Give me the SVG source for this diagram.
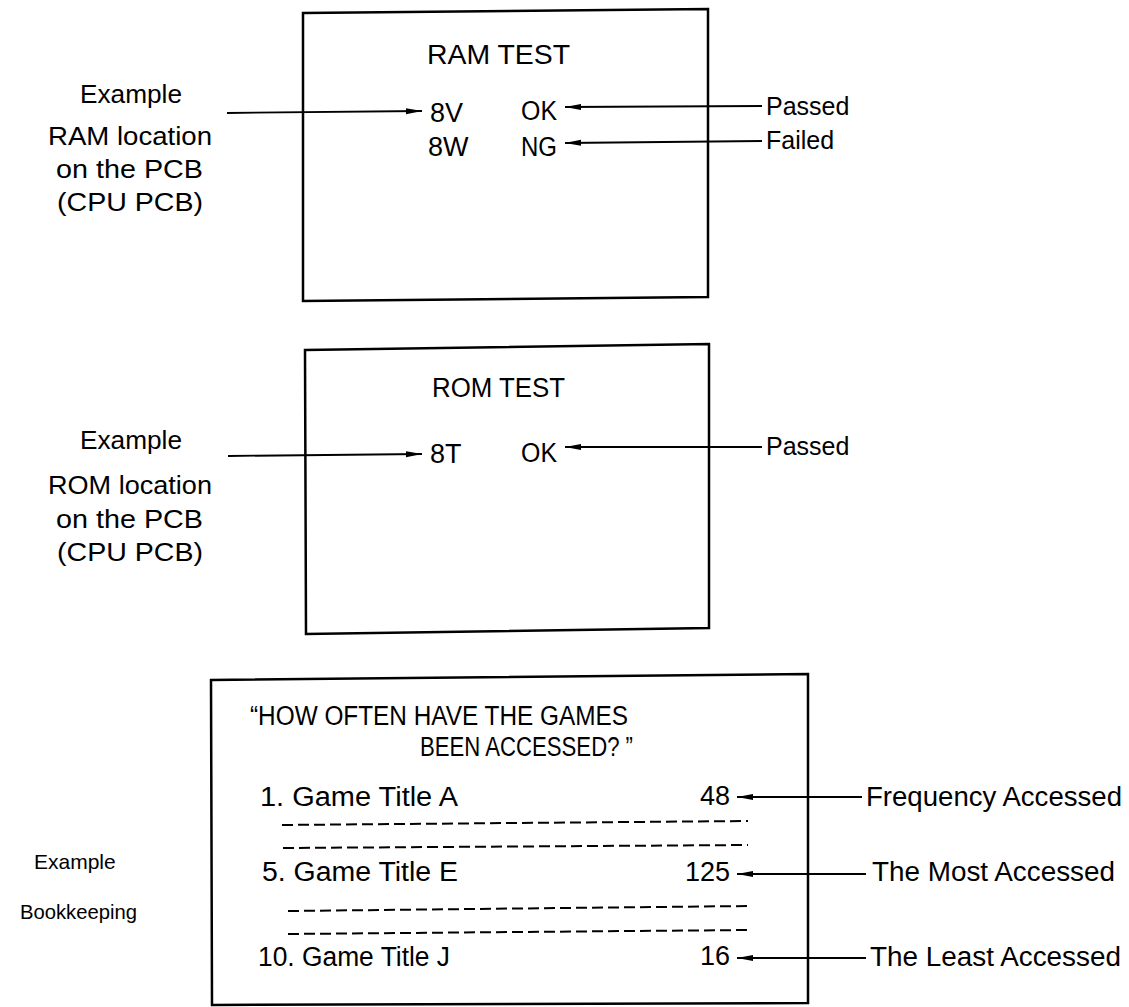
<svg xmlns="http://www.w3.org/2000/svg" width="1129" height="1007" viewBox="0 0 1129 1007">
<defs>
<marker id="ah" viewBox="0 0 16 8" refX="16" refY="4" markerWidth="16" markerHeight="8" markerUnits="userSpaceOnUse" orient="auto">
<path d="M0,1 L16,4 L0,7 Z" fill="#000"/>
</marker>
<style>
.box{fill:none;stroke:#000;stroke-width:2.5}
.arr{fill:none;stroke:#000;stroke-width:1.8;marker-end:url(#ah)}
.dash{fill:none;stroke:#000;stroke-width:2;stroke-dasharray:11 5}
text{font-family:"Liberation Sans",Arial,sans-serif;fill:#000}
.t28{font-size:27px}
.t25{font-size:25px}
.t21{font-size:21px}
.mid{text-anchor:middle}
.end{text-anchor:end}
</style>
</defs>

<g id="ram-screen">
<path class="box" d="M303,13 L708,9 L708,297 L303,301 Z"/>
<text class="t28" x="427" y="64" textLength="143" lengthAdjust="spacingAndGlyphs">RAM TEST</text>
<text class="t28" x="430" y="122">8V</text>
<text class="t28" x="521" y="120" textLength="36" lengthAdjust="spacingAndGlyphs">OK</text>
<text class="t28" x="428" y="156">8W</text>
<text class="t28" x="521" y="156" textLength="36" lengthAdjust="spacingAndGlyphs">NG</text>
</g>

<g id="ram-left-label">
<text class="t25 mid" x="131" y="103" textLength="102" lengthAdjust="spacingAndGlyphs">Example</text>
<text class="t25" x="48" y="145" textLength="164" lengthAdjust="spacingAndGlyphs">RAM location</text>
<text class="t25" x="56" y="178" textLength="147" lengthAdjust="spacingAndGlyphs">on the PCB</text>
<text class="t25" x="57" y="211" textLength="146" lengthAdjust="spacingAndGlyphs">(CPU PCB)</text>
</g>

<g id="ram-right-labels">
<text class="t25" x="766" y="115">Passed</text>
<text class="t25" x="766" y="149">Failed</text>
</g>

<g id="rom-screen">
<path class="box" d="M305,350 L709,344 L709,628 L306,634 Z"/>
<text class="t28" x="432" y="397" textLength="133" lengthAdjust="spacingAndGlyphs">ROM TEST</text>
<text class="t28" x="430" y="463">8T</text>
<text class="t28" x="521" y="462" textLength="36" lengthAdjust="spacingAndGlyphs">OK</text>
</g>

<g id="rom-left-label">
<text class="t25 mid" x="131" y="449" textLength="102" lengthAdjust="spacingAndGlyphs">Example</text>
<text class="t25" x="48" y="494" textLength="164" lengthAdjust="spacingAndGlyphs">ROM location</text>
<text class="t25" x="56" y="528" textLength="147" lengthAdjust="spacingAndGlyphs">on the PCB</text>
<text class="t25" x="57" y="561" textLength="146" lengthAdjust="spacingAndGlyphs">(CPU PCB)</text>
</g>

<g id="rom-right-label">
<text class="t25" x="766" y="455">Passed</text>
</g>

<g id="bookkeeping-screen">
<path class="box" d="M211,680 L808,674 L808,1003 L212,1005 Z"/>
<text class="t28" x="250" y="725" textLength="378" lengthAdjust="spacingAndGlyphs">“HOW OFTEN HAVE THE GAMES</text>
<text class="t28" x="420" y="756" textLength="213" lengthAdjust="spacingAndGlyphs">BEEN ACCESSED? ”</text>
<text class="t28" x="260" y="806" textLength="198" lengthAdjust="spacingAndGlyphs">1. Game Title A</text>
<text class="t28 end" x="730" y="805">48</text>
<path class="dash" d="M282,825 L748,821"/>
<path class="dash" d="M283,848 L748,845"/>
<text class="t28" x="262" y="881" textLength="196" lengthAdjust="spacingAndGlyphs">5. Game Title E</text>
<text class="t28 end" x="730" y="881">125</text>
<path class="dash" d="M288,911 L748,906"/>
<path class="dash" d="M288,934 L748,930"/>
<text class="t28" x="258" y="966" textLength="192" lengthAdjust="spacingAndGlyphs">10. Game Title J</text>
<text class="t28 end" x="730" y="965">16</text>
</g>

<g id="bookkeeping-left-label">
<text class="t21" x="34" y="869">Example</text>
<text class="t21" x="20" y="919" textLength="117" lengthAdjust="spacingAndGlyphs">Bookkeeping</text>
</g>

<g id="bookkeeping-right-labels">
<text class="t28" x="866" y="806" textLength="256" lengthAdjust="spacingAndGlyphs">Frequency Accessed</text>
<text class="t28" x="872" y="881" textLength="243" lengthAdjust="spacingAndGlyphs">The Most Accessed</text>
<text class="t28" x="870" y="966" textLength="251" lengthAdjust="spacingAndGlyphs">The Least Accessed</text>
</g>

<g id="connectors">
<path class="arr" d="M227,113 L422,111"/>
<path class="arr" d="M762,106 L565,107"/>
<path class="arr" d="M762,141 L565,143"/>
<path class="arr" d="M228,456 L422,454"/>
<path class="arr" d="M762,447 L565,447"/>
<path class="arr" d="M862,797 L737,797"/>
<path class="arr" d="M866,874 L737,874"/>
<path class="arr" d="M866,958 L737,958"/>
</g>
</svg>
